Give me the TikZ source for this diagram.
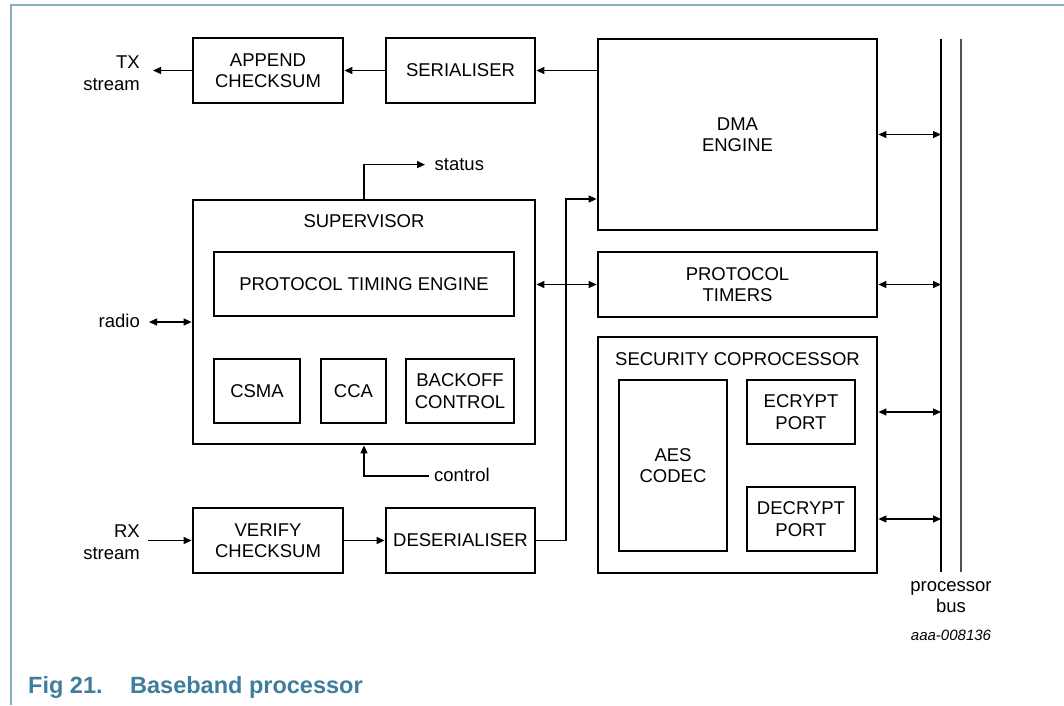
\documentclass[tikz,border=0pt]{standalone}
\usepackage{fontspec}
\setmainfont{Liberation Sans}
\usetikzlibrary{arrows.meta}
\usetikzlibrary{positioning}
\definecolor{framegray}{RGB}{140,172,196}
\definecolor{captionblue}{RGB}{62,125,155}
\definecolor{busgray}{RGB}{80,80,80}

\begin{document}
\begin{tikzpicture}[x=1pt,y=-1pt]
		  \tikzset{
			blk/.style={draw,line width=2.8pt,align=center,inner sep=0pt,
			  font=\fontsize{18.5}{21.5}\selectfont},
			lbl/.style={inner sep=0pt,align=right,font=\fontsize{18.5}{21.5}\selectfont},
			sig/.style={line width=1.3pt,-{Triangle[length=8pt,width=7pt]}},
			bisig/.style={line width=1.3pt,{Triangle[length=8pt,width=7pt]}-{Triangle[length=8pt,width=7pt]}},
		  }
		  \useasboundingbox (0,0) rectangle (1064,705);
		  %FRAME
		  \draw[framegray,line width=1.6pt] (1064,5) -- (11,5) -- (11,705);
		  %CAPTION
		  \node[anchor=west,inner sep=0pt,captionblue,font=\fontsize{23.5}{28}\selectfont\bfseries] (fig) at (28,687) {Fig 21.};
		  \node[anchor=west,inner sep=0pt,captionblue,font=\fontsize{23.5}{28}\selectfont\bfseries] (title) at (130,687) {Baseband processor};
		  %TX PATH
		  \node[blk,minimum width=150pt,minimum height=65pt] (append) at (268,70.5) {APPEND\\CHECKSUM};
		  \node[blk,minimum width=149pt,minimum height=65pt] (serial) at (460.5,70.5) {SERIALISER};
		  \coordinate (txend) at (153,70.5);
		  \node[lbl,anchor=east] (tx) at (140,73) {TX\\stream};
		  %DMA AND TIMERS
		  \node[blk,minimum width=279pt,minimum height=191pt] (dma) at (737.5,134.5) {DMA\\ENGINE};
		  \node[blk,minimum width=279pt,minimum height=65pt] (timers) at (737.5,284.5) {PROTOCOL\\TIMERS};
		  %SECURITY COPROCESSOR
		  \node[blk,minimum width=279pt,minimum height=236pt] (secu) at (737.5,455) {};
		  \node[lbl,anchor=north,align=center] (secutxt) at (737.5,352) {SECURITY COPROCESSOR};
		  \node[blk,minimum width=108pt,minimum height=171pt] (aes) at (673,465.5) {AES\\CODEC};
		  \node[blk,minimum width=108pt,minimum height=64pt] (ecrypt) at (801,412) {ECRYPT\\PORT};
		  \node[blk,minimum width=108pt,minimum height=64pt] (decrypt) at (801,519) {DECRYPT\\PORT};
		  %SUPERVISOR
		  \node[blk,minimum width=342pt,minimum height=244pt] (super) at (364,322) {};
		  \node[lbl,anchor=north,align=center] (supertxt) at (364,214) {SUPERVISOR};
		  \node[blk,minimum width=300pt,minimum height=64pt] (pte) at (364,284) {PROTOCOL TIMING ENGINE};
		  \node[blk,minimum width=86pt,minimum height=64pt] (csma) at (257,391) {CSMA};
		  \node[blk,minimum width=65pt,minimum height=64pt] (cca) at (353.5,391) {CCA};
		  \node[blk,minimum width=108pt,minimum height=64pt] (backoff) at (460,391) {BACKOFF\\CONTROL};
		  %RX PATH
		  \node[blk,minimum width=150pt,minimum height=65pt] (verify) at (268,540.5) {VERIFY\\CHECKSUM};
		  \node[blk,minimum width=149pt,minimum height=65pt] (deser) at (460.5,540.5) {DESERIALISER};
		  \coordinate (rxstart) at (148,540.5);
		  \node[lbl,anchor=east] (rx) at (140,542) {RX\\stream};
		  %BUS
		  \coordinate (busa) at (941,39);
		  \coordinate (busb) at (961,39);
		  \draw[line width=1.3pt] (busa) -- ++(0,533);
		  \draw[busgray,line width=1.3pt] (busb) -- ++(0,533);
		  \node[lbl,align=center,anchor=north] (bustxt) at (951,581) {processor\\bus};
		  \node[inner sep=0pt,font=\fontsize{15}{18}\selectfont\itshape] (ref) at (951,635) {aaa-008136};
		  %CONNECTORS
		  \draw[sig] (append.west) -- (txend);
		  \draw[sig] (serial.west) -- (append.east);
		  \draw[sig] (dma.west |- serial.east) -- (serial.east);
		  \draw[sig] (super.north) -- ++(0,-34) -- ++(61,0) node[lbl,anchor=west,xshift=9pt] (status) {status};
		  \coordinate (ctrl) at (429,476);
		  \draw[sig] (ctrl) -- (ctrl -| super.south) -- (super.south);
		  \node[lbl,anchor=west] (control) at (434,475) {control};
		  \coordinate (radioend) at (149,322);
		  \draw[bisig] (radioend) -- (super.west);
		  \node[lbl,anchor=east] (radio) at (140,321) {radio};
		  \draw[bisig] (super.east |- timers.west) -- (timers.west);
		  \draw[sig] (rxstart) -- (verify.west);
		  \draw[sig] (verify.east) -- (deser.west);
		  \coordinate (turn) at (566,199);
		  \draw[sig] (deser.east) -- (deser.east -| turn) -- (turn) -- (turn -| dma.west);
		  \draw[bisig] (dma.east) -- (dma.east -| busa);
		  \draw[bisig] (timers.east) -- (timers.east -| busa);
		  \draw[bisig] (secu.east |- ecrypt) -- (ecrypt -| busa);
		  \draw[bisig] (secu.east |- decrypt) -- (decrypt -| busa);
		  \end{tikzpicture}
\end{document}
